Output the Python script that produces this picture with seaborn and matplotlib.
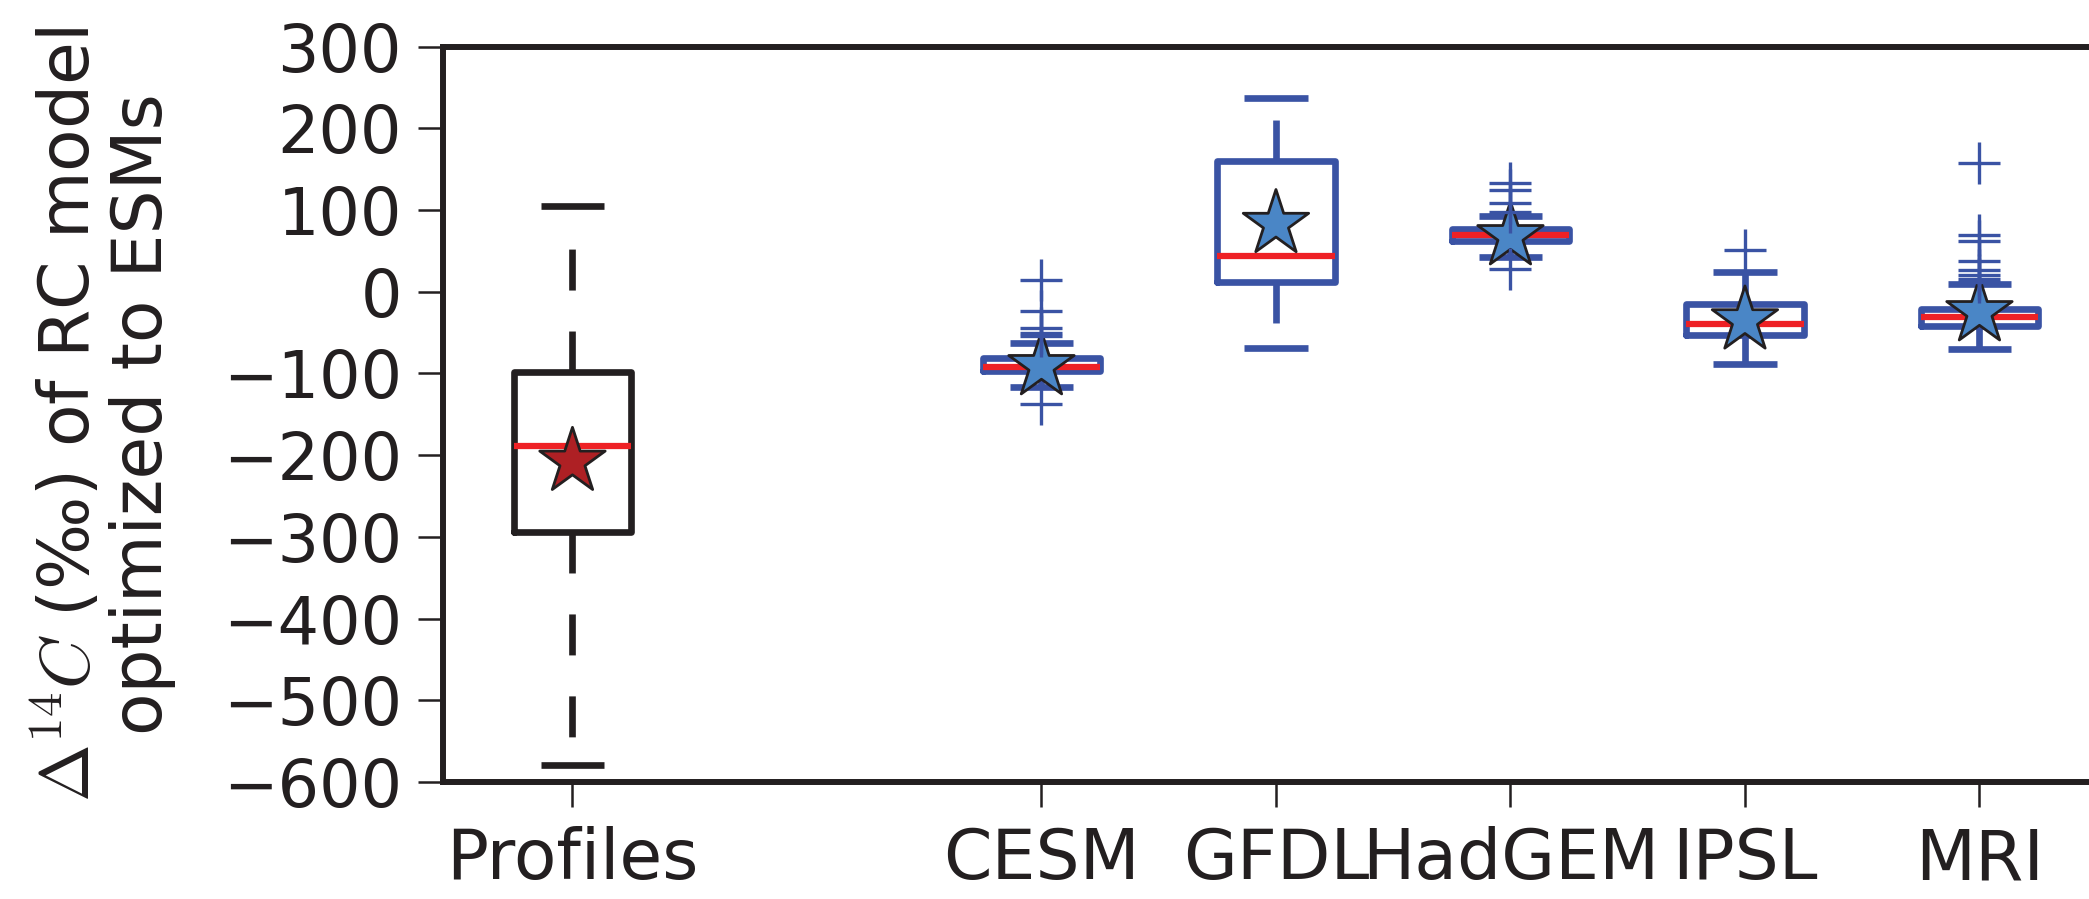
import matplotlib
matplotlib.use("Agg")
import matplotlib.pyplot as plt
import seaborn as sns
import pandas as pd

# ---------------- data ----------------
categories = ["Profiles", "CESM", "GFDL", "HadGEM", "IPSL", "MRI"]
whisker_low = [-579, -117, -68.5, 42, -88.5, -70.5]
quartile_1 = [-294, -97, 11.5, 62, -53, -42]
medians = [-189, -92.5, 44, 69.5, -39.5, -30.5]
quartile_3 = [-98, -81.5, 160, 76.5, -15, -21.5]
whisker_high = [105, -63, 237, 93, 24, 9]
fliers = [
    [],
    [14, -23, -44, -51, -54, -137],
    [],
    [133, 124, 109, 98, 28],
    [51],
    [158, 69, 62, 37, 27, 20, 15, 12],
]
means = [-208, -91, 83, 68, -35, -25]
yticks = [300, 200, 100, 0, -100, -200, -300, -400, -500, -600]

# ---------------- layout / style ----------------
positions = [0, 2, 3, 4, 5, 6]
BLACK = "#231F20"
BLUE = "#3A53A4"
RED = "#EE2125"
STAR_BLUE = "#4A86C6"
STAR_RED = "#AE2024"

sns.set_theme(style="white")
plt.rcParams["font.family"] = ["DejaVu Sans"]
plt.rcParams["mathtext.fontset"] = "cm"
plt.rcParams["lines.scale_dashes"] = False
plt.rcParams["text.color"] = BLACK

fig = plt.figure(figsize=(20.89, 8.99), dpi=100)
ax = fig.add_axes([0.2123, 0.1301, 0.797, 0.8181])

stats = []
for i, c in enumerate(categories):
    stats.append(dict(label=c, whislo=whisker_low[i], q1=quartile_1[i], med=medians[i],
                      q3=quartile_3[i], whishi=whisker_high[i], fliers=fliers[i]))

LW = 4.8
dash = (0, (29.5, 29.5))
for idx, col in [([0], BLACK), ([1, 2, 3, 4, 5], BLUE)]:
    ax.bxp([stats[i] for i in idx], positions=[positions[i] for i in idx], widths=0.5,
           capwidths=0.27, manage_ticks=False,
           boxprops=dict(color=col, linewidth=LW, solid_joinstyle="round"),
           whiskerprops=dict(color=col, linewidth=LW, linestyle=dash, dash_capstyle="butt"),
           capprops=dict(color=col, linewidth=LW, solid_capstyle="butt"),
           medianprops=dict(color=RED, linewidth=4.5, solid_capstyle="butt"),
           flierprops=dict(marker="+", markeredgecolor=BLUE, markersize=30,
                           markeredgewidth=2.4, linestyle="none", zorder=4))

df = pd.DataFrame({"model": categories, "pos": positions, "mean": means})
palette = {c: (STAR_RED if c == "Profiles" else STAR_BLUE) for c in categories}
sns.scatterplot(data=df, x="pos", y="mean", hue="model", palette=palette, marker="*",
                s=2450, edgecolor=BLACK, linewidth=2.0, legend=False, zorder=3, ax=ax)

ax.set_xlim(-0.55, 6.55)
ax.set_ylim(-600, 300)
ax.set_xticks(positions)
ax.set_xticklabels(categories)
ax.set_yticks(yticks)
ax.set_xlabel("")
ax.tick_params(axis="both", which="major", colors=BLACK, direction="out",
               length=18, width=1.8)
ax.tick_params(axis="y", labelsize=47, pad=12, left=True, right=False)
ax.tick_params(axis="x", labelsize=50, pad=14, bottom=True, top=False)
for s in ax.spines.values():
    s.set_linewidth(4.3)
    s.set_color(BLACK)

ax.set_ylabel("$\\Delta^{14}C$ (‰) of RC model\noptimized to ESMs", fontsize=50,
              color=BLACK, linespacing=1.1)
ax.yaxis.label.set_verticalalignment("center")
ax.yaxis.set_label_coords(-0.2039, 0.5)

fig.savefig("out.png", dpi=100)
